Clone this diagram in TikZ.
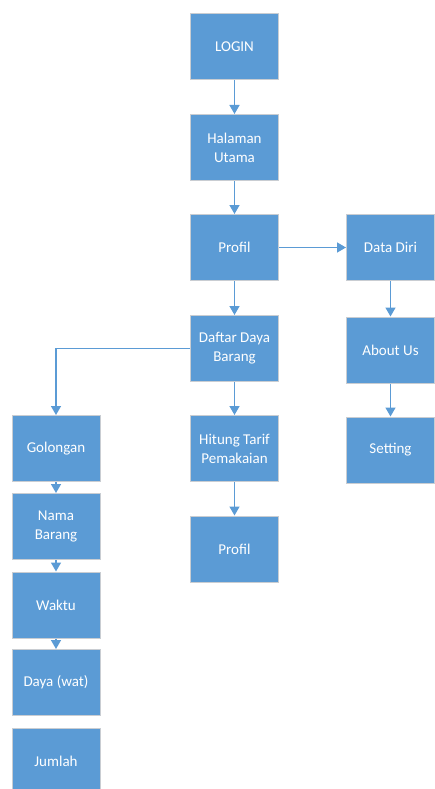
\documentclass[tikz,border=0pt]{standalone}
\usepackage{fontspec}
\setmainfont{Carlito}
\usetikzlibrary{arrows.meta}
\definecolor{boxblue}{HTML}{5B9BD5}
\definecolor{boxedge}{HTML}{C9CDD2}
\begin{document}
\begin{tikzpicture}[x=1pt,y=-1pt,
  box/.style={fill=boxblue,draw=boxedge,line width=1pt,minimum width=88pt,minimum height=66pt,
    text=white,align=center,font=\fontsize{15}{19}\selectfont,inner sep=2pt},
  conn/.style={draw=boxblue,line width=1.4pt,-{Triangle[length=9pt,width=10pt]}}]
\useasboundingbox (0,0) rectangle (435,789);
\node[box] (login) at (234.5,46.5) {LOGIN};
\node[box] (utama) at (234.5,147.5) {Halaman\\Utama};
\node[box] (profil) at (234.5,247.5) {Profil};
\node[box] (daftar) at (234.5,348.5) {Daftar Daya\\Barang};
\node[box] (hitung) at (234.5,448.5) {Hitung Tarif\\Pemakaian};
\node[box] (profil2) at (234.5,549) {Profil};
\node[box] (diri) at (390.5,247.5) {Data Diri};
\node[box] (about) at (390.5,350) {About Us};
\node[box] (setting) at (390.5,450) {Setting};
\node[box] (gol) at (56,448.5) {Golongan};
\node[box] (nama) at (56,526.5) {Nama\\Barang};
\node[box] (waktu) at (56,605) {Waktu};
\node[box] (daya) at (56,682.5) {Daya (wat)};
\node[box] (jumlah) at (56,761.5) {Jumlah};
\draw[conn] (login) -- (utama);
\draw[conn] (utama) -- (profil);
\draw[conn] (profil) -- (daftar);
\draw[conn] (daftar) -- (hitung);
\draw[conn] (hitung) -- (profil2);
\draw[conn] (profil) -- (diri);
\draw[conn] (diri) -- (about);
\draw[conn] (about) -- (setting);
\draw[conn] (daftar.west) -| (gol.north);
\draw[conn] (gol) -- (nama);
\draw[conn] (nama) -- (waktu);
\draw[conn] (waktu) -- (daya);
\end{tikzpicture}
\end{document}
